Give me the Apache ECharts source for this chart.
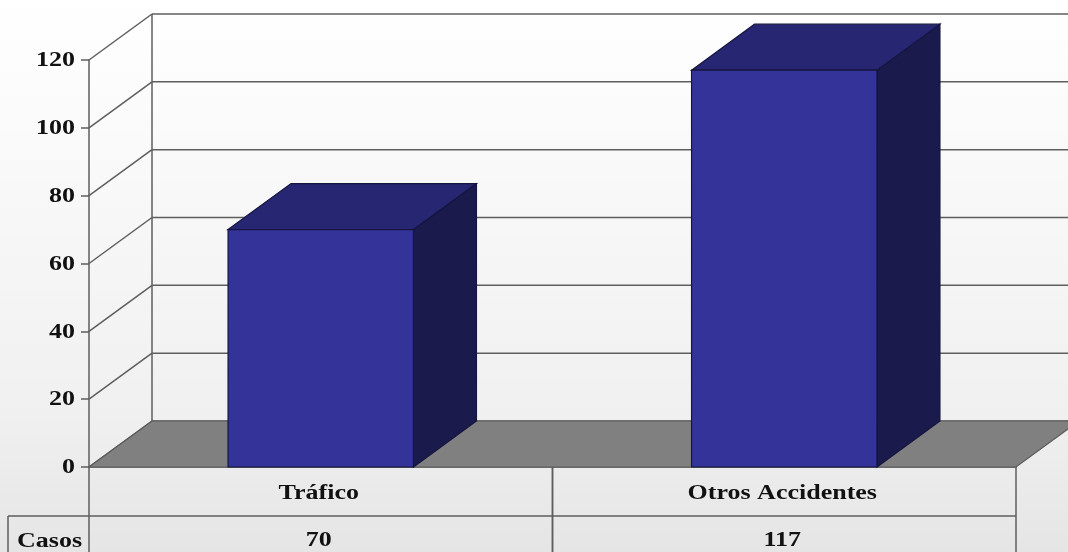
<!DOCTYPE html>
<html>
<head>
<meta charset="utf-8">
<style>
html,body{margin:0;padding:0;background:#fff;overflow:hidden}
#chart{width:1068px;height:552px;filter:blur(0.7px)}
</style>
<script src="https://cdn.jsdelivr.net/npm/echarts@6/dist/echarts.min.js"></script>
</head>
<body>
<div id="chart"></div>
<script>
var categories = ['Tráfico', 'Otros Accidentes'];
var casos = [70, 117];
var yTicks = [0, 20, 40, 60, 80, 100, 120];
var rowLabel = 'Casos';

var DX = 63, DY = 46;
var LINE = '#5e5e5e';
var FONT = 'bold 20px "Liberation Serif"';
var TEXT = '#111111';
var SX = 1.3;

function label(str, x, y, align) {
  return {type:'text', x:x, y:y, scaleX:SX,
    style:{text:str, x:0, y:0, align:align, verticalAlign:'middle', font:FONT, fill:TEXT}};
}
function seg(x1,y1,x2,y2,color,w){
  return {type:'line', shape:{x1:x1,y1:y1,x2:x2,y2:y2}, style:{stroke:color||LINE, lineWidth:w||1.5}};
}
function poly(pts,fill,stroke){
  return {type:'polygon', shape:{points:pts}, style:{fill:fill, stroke:stroke, lineWidth:1.2}};
}

var chart = echarts.init(document.getElementById('chart'), null, {renderer:'canvas'});
chart.setOption({
  animation:false,
  backgroundColor:{type:'linear',x:0,y:0,x2:0,y2:1,colorStops:[
    {offset:0,color:'#ffffff'},{offset:0.25,color:'#fafafa'},{offset:0.75,color:'#f0f0f0'},{offset:1,color:'#e5e5e5'}]},
  grid:{left:89, width:927, top:60, height:407},
  xAxis:{type:'category', data:categories,
    axisLine:{show:true, lineStyle:{color:'#555555', width:1.5}}, axisTick:{show:false}, axisLabel:{show:false}, splitLine:{show:false}},
  yAxis:{type:'value', min:0, max:120, interval:20,
    axisLine:{show:true, lineStyle:{color:LINE, width:1.5}},
    axisTick:{show:true, length:8, lineStyle:{color:LINE, width:1.5}},
    axisLabel:{show:false}, splitLine:{show:false}},
  series:[
    { // back wall grid and tick labels
      type:'custom', z:1, encode:{x:0,y:1}, data:yTicks.map(function(t){return [0,t];}),
      renderItem:function(params,api){
        var band=api.size([1,0])[0];
        var p=api.coord([0,api.value(1)]);
        var x0=p[0]-band/2, y=p[1];
        var base=api.coord([0,0])[1];
        var top=api.coord([0,120])[1];
        var kids=[
          seg(x0,y,x0+DX,y-DY),
          seg(x0+DX,y-DY,x0+DX+band*2,y-DY),
          label(String(api.value(1)),x0-14,y+1,'right')
        ];
        if(params.dataIndex===0) kids.push(seg(x0+DX,base-DY,x0+DX,top-DY));
        return {type:'group',children:kids};
      }
    },
    { // floor
      type:'custom', z:2, encode:{x:0,y:1}, data:[[0,0]],
      renderItem:function(params,api){
        var band=api.size([1,0])[0];
        var p=api.coord([0,0]);
        var x0=p[0]-band/2, y=p[1], x1=x0+band*2;
        return poly([[x0,y],[x1,y],[x1+DX,y-DY],[x0+DX,y-DY]],'#808080','#5a5a5a');
      }
    },
    { // 3D bars
      type:'custom', z:3, encode:{x:0,y:1}, data:casos.map(function(v,i){return [i,v];}),
      renderItem:function(params,api){
        var band=api.size([1,0])[0];
        var w=band*0.4;
        var t=api.coord([api.value(0),api.value(1)]);
        var b=api.coord([api.value(0),0]);
        var l=t[0]-w/2, r=t[0]+w/2, yt=t[1], yb=b[1];
        var edge='#15153f';
        return {type:'group',children:[
          poly([[r,yt],[r+DX,yt-DY],[r+DX,yb-DY],[r,yb]],'#1a1a4d',edge),
          poly([[l,yt],[l+DX,yt-DY],[r+DX,yt-DY],[r,yt]],'#262673',edge),
          poly([[l,yt],[r,yt],[r,yb],[l,yb]],'#333399',edge)
        ]};
      }
    },
    { // data table
      type:'custom', z:4, encode:{x:0,y:1}, data:casos.map(function(v,i){return [i,v];}),
      renderItem:function(params,api){
        var i=api.value(0);
        var band=api.size([1,0])[0];
        var c=api.coord([i,0]);
        var y0=c[1], y1=y0+49, y2=552, cx=c[0], r=cx+band/2, l=cx-band/2;
        var kids=[
          seg(l,y0,l,y2), seg(r,y0,r,y2), seg(l,y1,r,y1),
          label(categories[i],cx-2,y0+27,'center'),
          label(String(api.value(1)),cx-2,y0+74,'center')
        ];
        if(i===0){
          kids.push(seg(8,y1,l,y1), seg(8,y1,8,y2), label(rowLabel,(8+l)/2+1,y0+75,'center'));
        }
        return {type:'group',children:kids};
      }
    }
  ]
});
</script>
</body>
</html>
